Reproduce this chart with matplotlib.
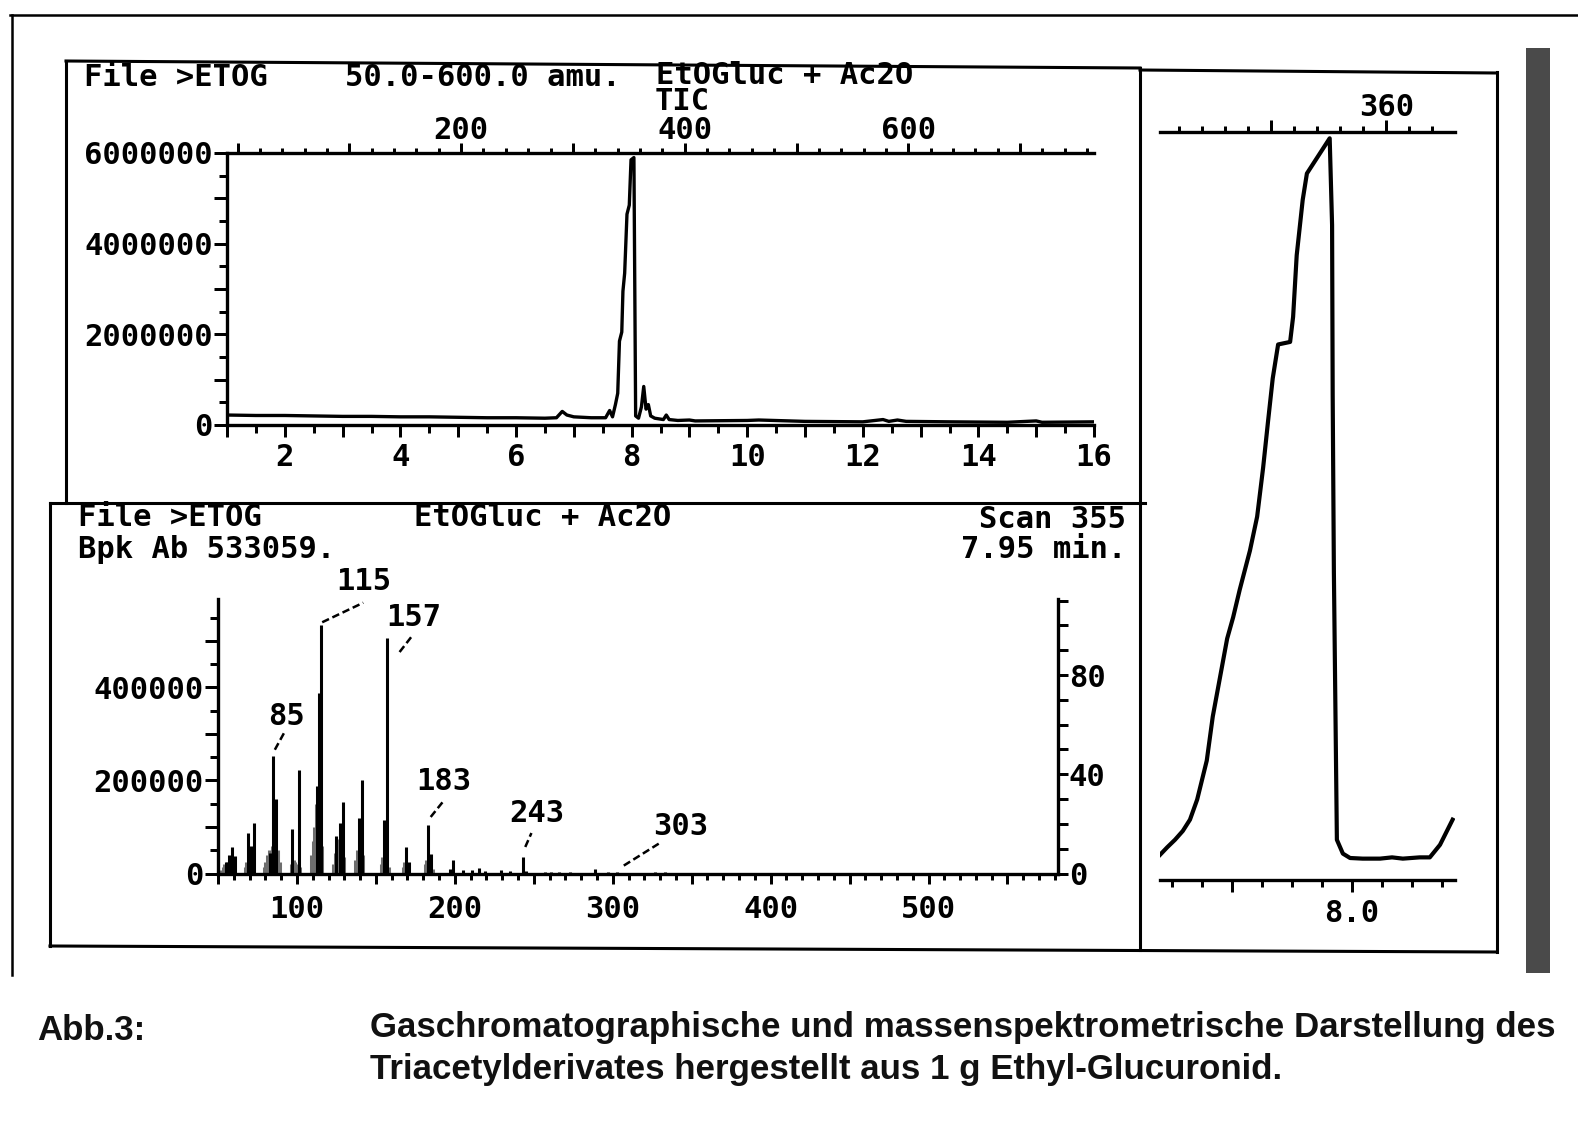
import matplotlib
matplotlib.use("Agg")
import matplotlib.pyplot as plt
from matplotlib.ticker import MultipleLocator, FuncFormatter
from matplotlib.patches import Rectangle

# ---------------------------------------------------------------- data
# Total ion chromatogram (TIC): retention time [min] and abundance [millions of counts]
tic_time = [1.00, 1.50, 2.00, 2.50, 3.00, 3.50, 4.00, 4.50, 5.00, 5.50,
            6.00, 6.50, 6.70, 6.80, 6.88, 7.00, 7.30, 7.55, 7.62, 7.67,
            7.72, 7.76, 7.79, 7.83, 7.85, 7.88, 7.92, 7.96, 7.99, 8.04,
            8.07, 8.12, 8.17, 8.21, 8.25, 8.29, 8.33, 8.40, 8.55, 8.60,
            8.65, 8.80, 9.00, 9.10, 10.0, 10.2, 11.0, 12.0, 12.35, 12.45,
            12.60, 12.75, 13.5, 14.5, 15.0, 15.1, 16.0]
tic_mcounts = [0.22, 0.21, 0.21, 0.20, 0.19, 0.19, 0.18, 0.18, 0.17, 0.16,
               0.16, 0.15, 0.16, 0.30, 0.22, 0.18, 0.16, 0.16, 0.32, 0.18,
               0.45, 0.70, 1.85, 2.05, 2.95, 3.35, 4.65, 4.85, 5.85, 5.90,
               0.20, 0.15, 0.40, 0.85, 0.35, 0.45, 0.20, 0.15, 0.12, 0.22,
               0.12, 0.10, 0.11, 0.09, 0.10, 0.11, 0.08, 0.07, 0.12, 0.08,
               0.11, 0.08, 0.07, 0.06, 0.09, 0.06, 0.07]

# Expanded view of the main peak
zoom_time = [7.680, 7.692, 7.705, 7.718, 7.730, 7.742, 7.758, 7.768, 7.780, 7.792,
             7.802, 7.813, 7.830, 7.842, 7.852, 7.860, 7.868, 7.877, 7.897, 7.902,
             7.908, 7.918, 7.925, 7.963, 7.967, 7.968, 7.970, 7.975, 7.985, 7.997,
             8.018, 8.047, 8.067, 8.085, 8.113, 8.130, 8.147, 8.168]
zoom_mcounts = [0.20, 0.26, 0.32, 0.39, 0.48, 0.64, 0.95, 1.30, 1.61, 1.92,
                2.09, 2.31, 2.62, 2.89, 3.28, 3.64, 3.99, 4.26, 4.28, 4.48,
                4.97, 5.41, 5.62, 5.90, 5.21, 3.86, 2.45, 0.32, 0.21, 0.175,
                0.17, 0.17, 0.18, 0.17, 0.18, 0.18, 0.28, 0.48]

# Mass spectrum, scan 355 (7.95 min): main ions
ms_mz = [55, 57, 59, 61, 69, 71, 73, 83, 85, 86,
         87, 97, 101, 113, 114, 115, 125, 127, 129, 139,
         141, 155, 157, 169, 171, 183, 185, 197, 199, 205,
         211, 215, 219, 229, 235, 243, 245, 257, 261, 266,
         273, 289, 297, 303, 327, 333]
ms_abund = [25000, 40000, 57000, 38000, 86000, 60000, 108000, 45000, 253000, 90000,
            160000, 95000, 222000, 187000, 387000, 533059, 80000, 109000, 154000, 120000,
            202000, 115000, 506000, 57000, 25000, 104000, 42000, 10000, 30000, 8000,
            7000, 12000, 6000, 7000, 5000, 36000, 6000, 4000, 4000, 4000,
            4000, 9000, 4000, 4000, 4000, 4000]
# weaker neighbouring ions forming the grey clusters
ms_minor_mz = [52, 53, 54, 56, 58, 60, 67, 68, 70, 72,
               79, 80, 81, 82, 84, 88, 89, 96, 98, 99,
               100, 102, 109, 110, 111, 112, 116, 123, 124, 126,
               128, 130, 137, 138, 140, 142, 153, 154, 156, 158,
               167, 168, 170, 181, 182, 184, 186]
ms_minor_abund = [8000, 15000, 20000, 25000, 30000, 20000, 15000, 25000, 35000, 30000,
                  15000, 25000, 40000, 50000, 60000, 50000, 25000, 20000, 30000, 25000,
                  20000, 15000, 40000, 70000, 100000, 150000, 60000, 20000, 45000, 75000,
                  60000, 35000, 30000, 50000, 60000, 40000, 20000, 35000, 30000, 15000,
                  15000, 25000, 15000, 20000, 30000, 35000, 10000]
base_peak = 533059
label_mz = [85, 115, 157, 183, 243, 303]

# ---------------------------------------------------------------- figure
W, H, DPI = 1578, 1130, 100
PX = 72.0 / DPI          # points per pixel
FS = 22
LW = 2.4
plt.rcParams["font.family"] = ["DejaVu Sans Mono"]
plt.rcParams["font.weight"] = "bold"

fig = plt.figure(figsize=(W / DPI, H / DPI), dpi=DPI)
fig.patch.set_facecolor("white")


def rect(x0, y0, x1, y1):
    return [x0 / W, 1 - y1 / H, (x1 - x0) / W, (y1 - y0) / H]


bg = fig.add_axes([0, 0, 1, 1])
bg.set_xlim(0, W)
bg.set_ylim(H, 0)
bg.axis("off")


def seg(x0, y0, x1, y1, lw=2.2, color="black"):
    bg.plot([x0, x1], [y0, y1], color=color, lw=lw, solid_capstyle="projecting")


# scan frame
seg(10, 15, W, 15, lw=1.8)
seg(12, 15, 12, 975, lw=1.8)
bg.add_patch(Rectangle((1526, 48), 24, 925, color="#4a4a4a", lw=0))
# panel frames
seg(66, 61, 1140, 68)
seg(1140, 70, 1497, 73)
seg(66, 61, 66, 503)
seg(50, 503, 1145, 503)
seg(50, 503, 50, 946)
seg(50, 946, 1497, 952)
seg(1140, 68, 1140, 950)
seg(1497, 72, 1497, 952)

# headers (plotter style)
hd = dict(fontsize=FS, va="center", color="black")
bg.text(84, 77, "File >ETOG", ha="left", **hd)
bg.text(345, 77, "50.0-600.0 amu.", ha="left", **hd)
bg.text(656, 75, "EtOGluc + Ac2O", ha="left", **hd)
bg.text(682, 102, "TIC", ha="center", **hd)
bg.text(78, 518, "File >ETOG", ha="left", **hd)
bg.text(414, 518, "EtOGluc + Ac2O", ha="left", **hd)
bg.text(78, 549, "Bpk Ab 533059.", ha="left", **hd)
bg.text(1126, 520, "Scan 355", ha="right", **hd)
bg.text(1126, 549, "7.95 min.", ha="right", **hd)


def base_style(ax):
    ax.set_facecolor("none")
    for s in ax.spines.values():
        s.set_linewidth(LW)
    ax.tick_params(which="both", direction="out", width=LW * 0.9,
                   labelsize=FS, colors="black")


# ---------------------------------------------------------------- TIC panel
ax1 = fig.add_axes(rect(227, 153, 1094, 425))
base_style(ax1)
ax1.plot(tic_time, [v * 1e6 for v in tic_mcounts], color="black", lw=2.4)
ax1.set_xlim(1, 16)
ax1.set_ylim(0, 6e6)
ax1.spines["right"].set_visible(False)
ax1.spines["top"].set_visible(False)
ax1.xaxis.set_major_locator(MultipleLocator(1))
ax1.xaxis.set_minor_locator(MultipleLocator(0.5))
ax1.xaxis.set_major_formatter(FuncFormatter(
    lambda v, p: f"{round(v)}" if round(v) % 2 == 0 else ""))
ax1.yaxis.set_major_locator(MultipleLocator(1e6))
ax1.yaxis.set_minor_locator(MultipleLocator(5e5))
ax1.yaxis.set_major_formatter(FuncFormatter(
    lambda v, p: f"{int(round(v))}" if int(round(v)) % 2000000 == 0 else ""))
ax1.tick_params(axis="x", which="major", length=12 * PX, pad=4)
ax1.tick_params(axis="x", which="minor", length=8 * PX)
ax1.tick_params(axis="y", which="major", length=13 * PX, pad=1)
ax1.tick_params(axis="y", which="minor", length=8 * PX)

sec1 = ax1.secondary_xaxis("top", functions=(lambda t: 51.7 * (t - 1.182),
                                              lambda s: s / 51.7 + 1.182))
sec1.spines["top"].set_linewidth(LW)
sec1.xaxis.set_major_locator(MultipleLocator(100))
sec1.xaxis.set_minor_locator(MultipleLocator(20))
sec1.xaxis.set_major_formatter(FuncFormatter(
    lambda v, p: f"{int(round(v))}" if round(v) > 0 and round(v) % 200 == 0 else ""))
sec1.tick_params(which="both", direction="out", width=LW * 0.9, labelsize=FS)
sec1.tick_params(which="major", length=10 * PX, pad=-1.5)
sec1.tick_params(which="minor", length=5 * PX)

# ---------------------------------------------------------------- mass spectrum
ax2 = fig.add_axes(rect(218, 599, 1058, 873.5))
base_style(ax2)
ax2.vlines(ms_minor_mz, 0, ms_minor_abund, color="#6e6e6e", lw=2.2, zorder=1)
ax2.vlines(ms_mz, 0, ms_abund, color="black", lw=2.2, zorder=2)
ax2.set_xlim(50, 582)
ax2.set_ylim(0, 590000)
ax2.spines["top"].set_visible(False)
ax2.spines["right"].set_visible(False)
ax2.xaxis.set_major_locator(MultipleLocator(50))
ax2.xaxis.set_minor_locator(MultipleLocator(10))
ax2.xaxis.set_major_formatter(FuncFormatter(
    lambda v, p: f"{int(round(v))}" if round(v) % 100 == 0 else ""))
ax2.yaxis.set_major_locator(MultipleLocator(100000))
ax2.yaxis.set_minor_locator(MultipleLocator(50000))
ax2.yaxis.set_major_formatter(FuncFormatter(
    lambda v, p: f"{int(round(v))}" if int(round(v)) % 200000 == 0 else ""))
ax2.tick_params(axis="x", which="major", length=10 * PX, pad=8)
ax2.tick_params(axis="x", which="minor", length=6 * PX)
ax2.tick_params(axis="y", which="major", length=13 * PX, pad=1)
ax2.tick_params(axis="y", which="minor", length=8 * PX)

ax2r = ax2.twinx()
base_style(ax2r)
ax2r.set_ylim(0, 590000 / base_peak * 100)
for side in ("top", "left", "bottom"):
    ax2r.spines[side].set_visible(False)
ax2r.yaxis.set_major_locator(MultipleLocator(40))
ax2r.yaxis.set_minor_locator(MultipleLocator(10))
ax2r.tick_params(axis="y", which="both", length=10 * PX, pad=0.5)

# peak labels with dashed leaders
ann = {85: ((86, 266000), (92.3, 305000), (93.6, 337000)),
       115: ((116, 540000), (142, 582000), (142.5, 627000)),
       157: ((165, 476000), (173, 511000), (174, 549500)),
       183: ((184.7, 121500), (192.4, 154000), (193, 197000)),
       243: ((244.6, 57000), (248.5, 87000), (251.6, 130000)),
       303: ((307, 17000), (329.4, 64700), (342.8, 100000))}
for mz in label_mz:
    (xa, ya), (xb, yb), (xt, yt) = ann[mz]
    ax2.plot([xa, xb], [ya, yb], color="black", lw=1.8, ls=(0, (3, 1.5)),
             clip_on=False)
    ax2.text(xt, yt, str(mz), fontsize=FS, ha="center", va="center",
             clip_on=False)

# ---------------------------------------------------------------- expanded peak
ax3 = fig.add_axes(rect(1160, 132, 1455, 880))
base_style(ax3)
ax3.plot(zoom_time, [v * 1e6 for v in zoom_mcounts], color="black", lw=3)
ax3.set_xlim(7.68, 8.172)
ax3.set_ylim(0, 5.95e6)
for side in ("top", "left", "right"):
    ax3.spines[side].set_visible(False)
ax3.set_yticks([])
ax3.xaxis.set_major_locator(MultipleLocator(0.2))
ax3.xaxis.set_minor_locator(MultipleLocator(0.05))
ax3.xaxis.set_major_formatter(FuncFormatter(
    lambda v, p: "8.0" if abs(v - 8.0) < 1e-6 else ""))
ax3.tick_params(axis="x", which="major", length=12 * PX, pad=5)
ax3.tick_params(axis="x", which="minor", length=7 * PX)

sec3 = ax3.secondary_xaxis("top", functions=(lambda t: 357 + 52.17 * (t - 8),
                                              lambda s: 8 + (s - 357) / 52.17))
sec3.spines["top"].set_linewidth(LW)
sec3.xaxis.set_major_locator(MultipleLocator(10))
sec3.xaxis.set_minor_locator(MultipleLocator(2))
sec3.xaxis.set_major_formatter(FuncFormatter(
    lambda v, p: f"{int(round(v))}" if round(v) % 20 == 0 else ""))
sec3.tick_params(which="both", direction="out", width=LW * 0.9, labelsize=FS)
sec3.tick_params(which="major", length=12 * PX, pad=-1.5)
sec3.tick_params(which="minor", length=6 * PX)

# ---------------------------------------------------------------- caption
cap = dict(family=["Liberation Sans Narrow", "Liberation Sans"], weight="bold",
           fontsize=26, va="center", ha="left", color="#111111")
t1 = bg.text(370, 1028, "Gaschromatographische und massenspektrometrische Darstellung des", **cap)
t2 = bg.text(370, 1070, "Triacetylderivates hergestellt aus 1 g Ethyl-Glucuronid.", **cap)
t0 = bg.text(37, 1031, "Abb.3:", **cap)
fig.canvas.draw()
r = fig.canvas.get_renderer()
scale = 1185.0 / t1.get_window_extent(r).width
for t in (t0, t1, t2):
    t.set_fontsize(t.get_fontsize() * scale)

fig.savefig("out.png", dpi=DPI, facecolor="white")
